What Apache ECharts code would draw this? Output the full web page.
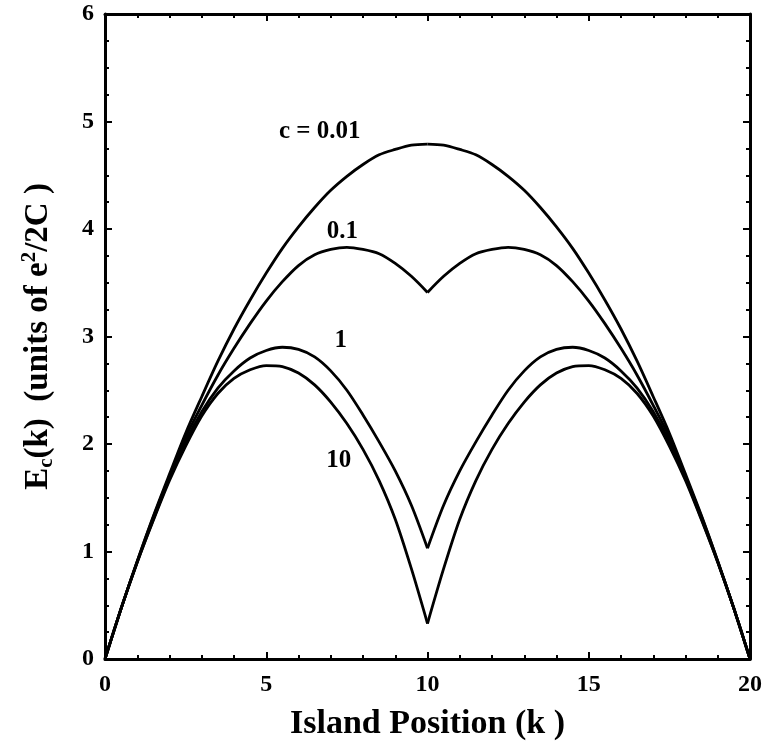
<!DOCTYPE html>
<html lang="en">
  <head>
    <meta charset="UTF-8" />
    <title>Charging Energy vs Island Position</title>
    <script src="https://cdn.jsdelivr.net/npm/echarts@6/dist/echarts.min.js"></script>
    <style>
      html, body { margin: 0; padding: 0; background: #fff; }
      #main { width: 765px; height: 753px; }
    </style>
  </head>
  <body>
    <div id="main"></div>

    <script>
      // island positions k (0 .. 20, step 0.5)
      var kValues = [0, 0.5, 1, 1.5, 2, 2.5, 3, 3.5, 4, 4.5, 5, 5.5, 6, 6.5, 7, 7.5, 8, 8.5, 9, 9.5,
        10, 10.5, 11, 11.5, 12, 12.5, 13, 13.5, 14, 14.5, 15, 15.5, 16, 16.5, 17, 17.5, 18, 18.5, 19, 19.5, 20];

      // E_c(k), one array per c value
      var c001 = [0, 0.47, 0.91, 1.33, 1.72, 2.10, 2.44, 2.77, 3.07, 3.34, 3.59, 3.82, 4.02, 4.20, 4.36, 4.49, 4.60, 4.69, 4.74, 4.78,
        4.79, 4.78, 4.74, 4.69, 4.60, 4.49, 4.36, 4.20, 4.02, 3.82, 3.59, 3.34, 3.07, 2.77, 2.44, 2.10, 1.72, 1.33, 0.91, 0.47, 0];
      var c01 = [0, 0.47, 0.91, 1.32, 1.70, 2.06, 2.36, 2.64, 2.89, 3.12, 3.33, 3.51, 3.66, 3.76, 3.81, 3.83, 3.81, 3.77, 3.68, 3.56,
        3.41, 3.56, 3.68, 3.77, 3.81, 3.83, 3.81, 3.76, 3.66, 3.51, 3.33, 3.12, 2.89, 2.64, 2.36, 2.06, 1.70, 1.32, 0.91, 0.47, 0];
      var c1 = [0, 0.47, 0.90, 1.30, 1.68, 2.02, 2.30, 2.52, 2.68, 2.80, 2.87, 2.90, 2.88, 2.81, 2.68, 2.50, 2.27, 2.02, 1.75, 1.43,
        1.03, 1.43, 1.75, 2.02, 2.27, 2.50, 2.68, 2.81, 2.88, 2.90, 2.87, 2.80, 2.68, 2.52, 2.30, 2.02, 1.68, 1.30, 0.90, 0.47, 0];
      var c10 = [0, 0.47, 0.90, 1.29, 1.66, 1.98, 2.26, 2.47, 2.61, 2.69, 2.73, 2.72, 2.66, 2.55, 2.39, 2.19, 1.95, 1.66, 1.30, 0.84,
        0.33, 0.84, 1.30, 1.66, 1.95, 2.19, 2.39, 2.55, 2.66, 2.72, 2.73, 2.69, 2.61, 2.47, 2.26, 1.98, 1.66, 1.29, 0.90, 0.47, 0];

      var curveNames = ["c = 0.01", "0.1", "1", "10"];
      var curves = [c001, c01, c1, c10];

      var xTicks = [0, 5, 10, 15, 20];
      var yTicks = [0, 1, 2, 3, 4, 5, 6];

      var serif = "Liberation Serif, Times New Roman, serif";

      var chartDom = document.getElementById("main");
      var myChart = echarts.init(chartDom);

      // where each curve's label sits (data coords)
      var labelAt = [[6.66, 4.91], [7.36, 3.98], [7.31, 2.96], [7.25, 1.85]];

      function pairs(ys, from, to) {
        var out = [];
        for (var i = from; i <= to; i++) out.push([kValues[i], ys[i]]);
        return out;
      }

      var series = [];
      curves.forEach(function (ys, idx) {
        var mid = (kValues.length - 1) / 2;
        // left and right half drawn separately so the cusp at k = 10 stays sharp
        [[0, mid], [mid, kValues.length - 1]].forEach(function (r, h) {
          series.push({
            name: curveNames[idx],
            type: "line",
            data: pairs(ys, r[0], r[1]),
            showSymbol: false,
            smooth: 0.3,
            lineStyle: { color: "#000", width: 2.8 },
            silent: true,
            markPoint: h === 0 ? {
              symbol: "circle",
              symbolSize: 0,
              silent: true,
              label: {
                show: true,
                position: "inside",
                formatter: curveNames[idx],
                color: "#000",
                fontFamily: serif,
                fontWeight: "bold",
                fontSize: 25
              },
              data: [{ coord: labelAt[idx] }]
            } : undefined
          });
        });
      });

      var tickCommon = {
        axisLine: { show: true, onZero: false, lineStyle: { color: "#000", width: 3 } },
        axisTick: { show: true, inside: true, length: 7, lineStyle: { color: "#000", width: 2 } },
        splitLine: { show: false }
      };

      var option = {
        animation: false,
        backgroundColor: "#fff",
        grid: { left: 105, right: 13, top: 14, bottom: 94, containLabel: false },
        xAxis: [
          Object.assign({
            type: "value",
            min: xTicks[0],
            max: xTicks[xTicks.length - 1],
            interval: 5,
            position: "bottom",
            minorTick: { show: true, splitNumber: 5, length: 4, lineStyle: { color: "#000", width: 2 } },
            axisLabel: {
              color: "#000", fontFamily: serif, fontWeight: "bold", fontSize: 24, margin: 14
            },
            name: "Island Position (k )",
            nameLocation: "middle",
            nameGap: 48,
            nameTextStyle: { color: "#000", fontFamily: serif, fontWeight: "bold", fontSize: 34 }
          }, tickCommon),
          Object.assign({
            type: "value",
            min: xTicks[0],
            max: xTicks[xTicks.length - 1],
            interval: 5,
            position: "top",
            minorTick: { show: true, splitNumber: 5, length: 4, lineStyle: { color: "#000", width: 2 } },
            axisLabel: { show: false }
          }, tickCommon)
        ],
        yAxis: [
          Object.assign({
            type: "value",
            min: yTicks[0],
            max: yTicks[yTicks.length - 1],
            interval: 1,
            position: "left",
            minorTick: { show: true, splitNumber: 4, length: 4, lineStyle: { color: "#000", width: 2 } },
            axisLabel: {
              color: "#000", fontFamily: serif, fontWeight: "bold", fontSize: 24, margin: 11
            },
            name: "{b|E}{sub|c}{b|(k)  (units of e}{sup|2}{b|/2C )}",
            nameLocation: "middle",
            nameGap: 48,
            nameTextStyle: {
              color: "#000", fontFamily: serif, fontWeight: "bold", fontSize: 33,
              rich: {
                b: { color: "#000", fontFamily: serif, fontWeight: "bold", fontSize: 33, lineHeight: 38 },
                sub: { color: "#000", fontFamily: serif, fontWeight: "bold", fontSize: 21, lineHeight: 16, verticalAlign: "bottom" },
                sup: { color: "#000", fontFamily: serif, fontWeight: "bold", fontSize: 21, lineHeight: 16, verticalAlign: "top" }
              }
            }
          }, tickCommon),
          Object.assign({
            type: "value",
            min: yTicks[0],
            max: yTicks[yTicks.length - 1],
            interval: 1,
            position: "right",
            minorTick: { show: true, splitNumber: 4, length: 4, lineStyle: { color: "#000", width: 2 } },
            axisLabel: { show: false }
          }, tickCommon)
        ],
        series: series
      };

      myChart.setOption(option);
    </script>
  </body>
</html>
